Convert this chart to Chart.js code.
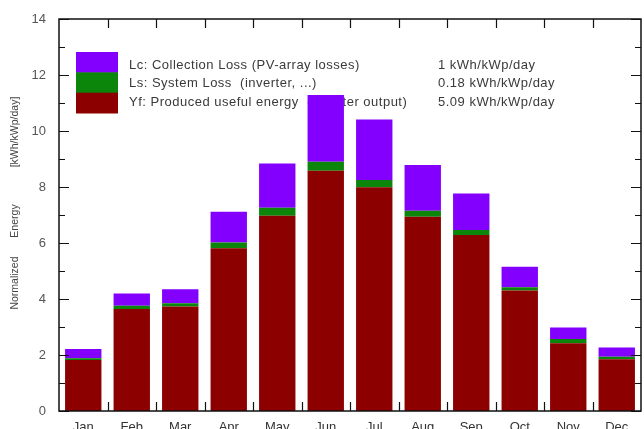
<!DOCTYPE html>
<html>
<head>
<meta charset="utf-8">
<script src="https://cdn.jsdelivr.net/npm/chart.js@4.4.0/dist/chart.umd.min.js"></script>
<style>
html,body{margin:0;padding:0;background:#fff;}
#wrap{width:644px;height:429px;position:relative;}
</style>
</head>
<body>
<div id="wrap"><canvas id="c" width="644" height="429"></canvas></div>
<script>
const months = ["Jan","Feb","Mar","Apr","May","Jun","Jul","Aug","Sep","Oct","Nov","Dec"];
const yfValues = [1.82,3.64,3.73,5.81,6.97,8.58,7.99,6.94,6.29,4.30,2.42,1.85];
const lsValues = [0.06,0.12,0.12,0.21,0.29,0.32,0.26,0.21,0.17,0.12,0.15,0.09];
const lcValues = [0.33,0.44,0.50,1.10,1.58,2.39,2.16,1.64,1.31,0.73,0.41,0.33];
const seriesNames = ["Lc: Collection Loss (PV-array losses)","Ls: System Loss  (inverter, ...)","Yf: Produced useful energy  (inverter output)"];
const seriesAverages = ["1 kWh/kWp/day","0.18 kWh/kWp/day","5.09 kWh/kWp/day"];
const yTitleWords = ["Normalized","Energy","[kWh/kWp/day]"];
const colors = {lc:"#8300ff", ls:"#0b860b", yf:"#8c0000"};

const FONT = "'Liberation Sans', Arial, sans-serif";

const decor = {
  id:"decor",
  beforeDatasetsDraw(chart){
    const ctx = chart.ctx;
    ctx.save();
    const bx=76, by=52, bw=42, bh=61;
    const cols=[colors.lc, colors.ls, colors.yf];
    for(let i=0;i<3;i++){
      ctx.fillStyle=cols[i];
      ctx.fillRect(bx, by+i*bh/3, bw, bh/3+0.5);
    }
    ctx.fillStyle="#3a3a3a";
    ctx.font="13px "+FONT;
    try{ctx.letterSpacing="0.5px";}catch(e){}
    ctx.textBaseline="middle";
    ctx.textAlign="left";
    for(let i=0;i<3;i++){
      const y=65+i*18.5;
      ctx.fillText(seriesNames[i],129,y);
      ctx.fillText(seriesAverages[i],438,y);
    }
    ctx.restore();
  },
  afterDraw(chart){
    const ctx=chart.ctx, a=chart.chartArea;
    const ys=chart.scales.y, xs=chart.scales.x;
    ctx.save();
    ctx.strokeStyle="#111";
    ctx.lineWidth=1.5;
    ctx.strokeRect(a.left,a.top,a.right-a.left,a.bottom-a.top);
    ctx.lineWidth=1.2;
    for(let v=0; v<=ys.max; v++){
      const p=Math.round(ys.getPixelForValue(v))+0.5;
      const len=(v%2===0)?10:6;
      ctx.beginPath();
      ctx.moveTo(a.left,p); ctx.lineTo(a.left+len,p);
      ctx.moveTo(a.right,p); ctx.lineTo(a.right-len,p);
      ctx.stroke();
    }
    for(let i=0;i<months.length-1;i++){
      const p=Math.round((xs.getPixelForValue(i)+xs.getPixelForValue(i+1))/2)+0.5;
      ctx.beginPath();
      ctx.moveTo(p,a.bottom); ctx.lineTo(p,a.bottom-9);
      ctx.moveTo(p,a.top); ctx.lineTo(p,a.top+9);
      ctx.stroke();
    }
    ctx.fillStyle="#444";
    ctx.font="10.5px "+FONT;
    ctx.textAlign="center";
    ctx.textBaseline="middle";
    const centers=[283,221,132];
    for(let i=0;i<yTitleWords.length;i++){
      ctx.save();
      ctx.translate(15,centers[i]);
      ctx.rotate(-Math.PI/2);
      ctx.fillText(yTitleWords[i],0,0);
      ctx.restore();
    }
    ctx.restore();
  }
};

new Chart(document.getElementById("c"),{
  type:"bar",
  data:{
    labels:months,
    datasets:[
      {label:"Yf",data:yfValues,backgroundColor:colors.yf,stack:"s"},
      {label:"Ls",data:lsValues,backgroundColor:colors.ls,stack:"s"},
      {label:"Lc",data:lcValues,backgroundColor:colors.lc,stack:"s"}
    ]
  },
  options:{
    responsive:false,
    animation:false,
    devicePixelRatio:1,
    layout:{padding:{top:19,right:3,left:0,bottom:0}},
    datasets:{bar:{categoryPercentage:1,barPercentage:0.75,borderWidth:0}},
    plugins:{legend:{display:false},tooltip:{enabled:false}},
    scales:{
      x:{
        stacked:true,
        grid:{display:false},
        border:{display:false},
        ticks:{color:"#333",font:{family:FONT,size:13},padding:1,maxRotation:0},
        afterFit(s){s.height=18;}
      },
      y:{
        stacked:true,
        min:0,max:14,
        grid:{display:false},
        border:{display:false},
        ticks:{stepSize:2,color:"#555",font:{family:FONT,size:13},padding:5},
        afterFit(s){s.width=59;}
      }
    }
  },
  plugins:[decor]
});
</script>
</body>
</html>
